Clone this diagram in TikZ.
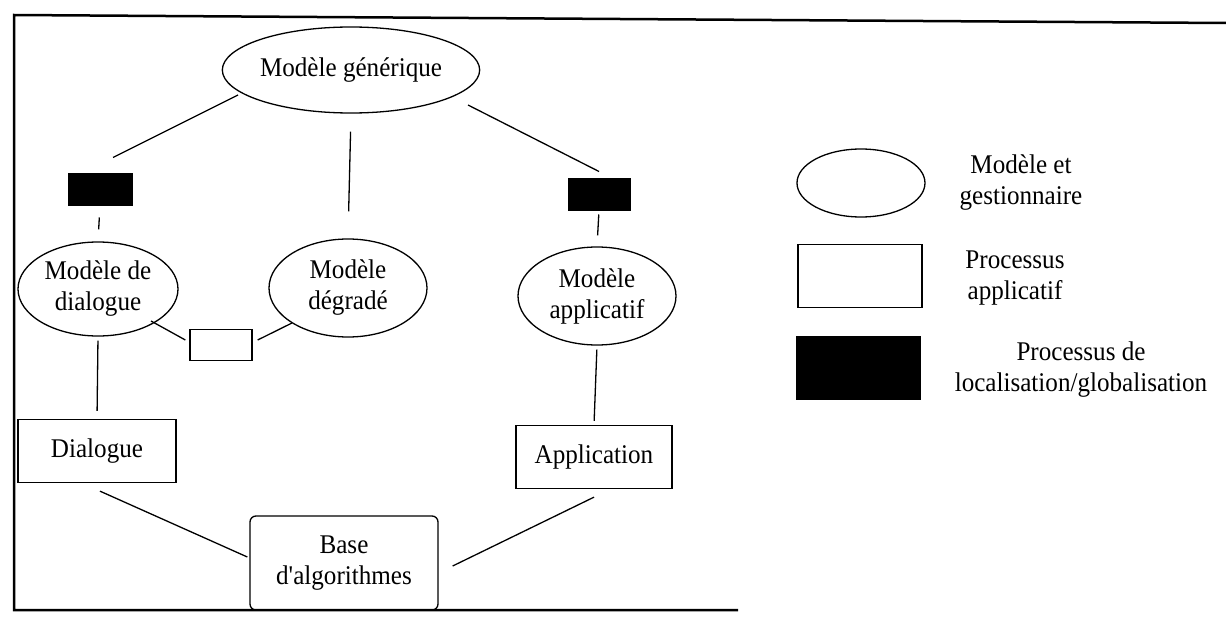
\documentclass[tikz,border=0pt]{standalone}
\usepackage{fontspec}
\setmainfont{Liberation Serif}[FakeStretch=0.93, Ligatures=TeXOff]
\usetikzlibrary{shapes.geometric}
\begin{document}
\begin{tikzpicture}[x=1pt,y=-1pt,
  every node/.style={font=\fontsize{27}{31}\selectfont, align=center, inner sep=0pt},
  ell/.style={draw, ellipse, line width=1.3pt},
  box/.style={draw, rectangle, line width=1.3pt},
  rbox/.style={draw, rectangle, rounded corners=6pt, line width=1.3pt},
  dark/.style={draw, fill=black, rectangle, line width=1pt},
  conn/.style={line width=1.3pt},
  frame/.style={line width=2.5pt}]
\useasboundingbox (0,0) rectangle (1226,618);
% frame
\draw[frame] (1226,23) -- (14,15) -- (14,610) -- (738,610);
% main diagram
\node[ell, minimum width=248, minimum height=86] (gen) at (351,70) {Modèle générique};
\node[dark, minimum width=64, minimum height=32] (lg1) at (100,189) {};
\node[dark, minimum width=62, minimum height=32] (lg2) at (599,194) {};
\node[ell, minimum width=160, minimum height=94] (mdia) at (98,289) {Modèle de\\dialogue};
\node[ell, minimum width=158, minimum height=98] (mdeg) at (348,288) {Modèle\\dégradé};
\node[ell, minimum width=158, minimum height=98] (mapp) at (597,296) {Modèle\\applicatif};
\node[box, minimum width=62, minimum height=31] (pa) at (221,345) {};
\node[box, minimum width=158, minimum height=63] (dia) at (97,451) {Dialogue};
\node[box, minimum width=156, minimum height=63] (app) at (594,457) {Application};
\node[rbox, minimum width=188, minimum height=94] (base) at (344,563) {Base\\d'algorithmes};
% connectors
\draw[conn] (gen) ++(-113,25) coordinate (g1) (lg1.north) ++(13,-15) coordinate (l1);
\draw[conn] (g1) -- (l1);
\draw[conn, shorten <=18pt, shorten >=27pt] (gen.south) -- (mdeg.north);
\draw[conn] (gen) ++(117,35) coordinate (g2) (lg2.north) ++(0,-6) coordinate (l2);
\draw[conn] (g2) -- (l2);
\draw[conn, shorten <=12pt, shorten >=12pt] (lg1.south) -- (mdia.north);
\draw[conn, shorten <=4pt, shorten >=11pt] (lg2.south) -- (mapp.north);
\draw[conn, shorten <=4pt, shorten >=8pt] (mdia.south) -- (dia.north);
\draw[conn, shorten <=4pt, shorten >=4pt] (mapp.south) -- (app.north);
\draw[conn] (mdia) ++(53,32) coordinate (d1) (pa.west) ++(-4,-5) coordinate (p1);
\draw[conn] (d1) -- (p1);
\draw[conn] (mdeg) ++(-56,35) coordinate (d2) (pa.east) ++(5,-5) coordinate (p2);
\draw[conn] (p2) -- (d2);
\draw[conn] (dia.south) ++(3,8) coordinate (b1) (base.west) ++(-2,-6) coordinate (b2);
\draw[conn] (b1) -- (b2);
\draw[conn] (base.east) ++(14,3) coordinate (b3) (app.south) ++(0,8) coordinate (b4);
\draw[conn] (b3) -- (b4);
% legend
\node[ell, minimum width=128, minimum height=68] (lell) at (861,183) {};
\node (tell) at (1021,183) {Modèle et\\gestionnaire};
\node[box, minimum width=124, minimum height=63] (lbox) at (860,276) {};
\node (tbox) at (1015,278) {Processus\\applicatif};
\node[dark, minimum width=124, minimum height=63] (ldark) at (858,368) {};
\node (tdark) at (1081,370) {Processus de\\localisation/globalisation};
\end{tikzpicture}
\end{document}
